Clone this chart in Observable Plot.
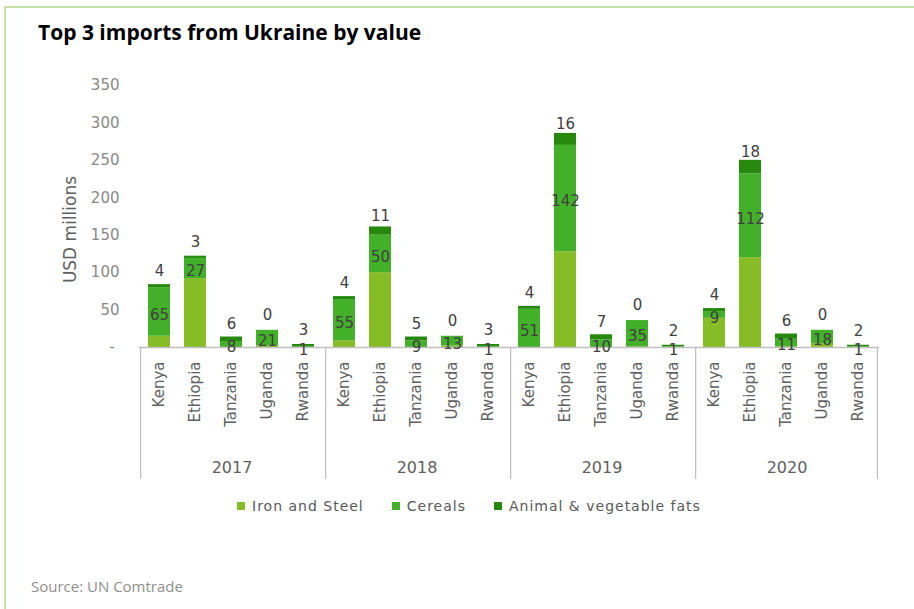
<!DOCTYPE html>
<html>
<head>
<meta charset="utf-8">
<script src="https://cdn.jsdelivr.net/npm/d3@7"></script>
<script src="https://cdn.jsdelivr.net/npm/@observablehq/plot@0.6"></script>
<style>
  html, body { margin: 0; padding: 0; background: #fff; }
  #page { position: relative; width: 914px; height: 609px; overflow: hidden; background: #fff; font-family: "Open Sans", sans-serif; }
  .border-top { position: absolute; left: 4px; top: 6px; right: 0; height: 2px; background: #c6e2a6; }
  .border-left { position: absolute; left: 4px; top: 6px; width: 2px; bottom: 0; background: #c6e2a6; }
  #title { position: absolute; left: 38px; top: 20px; font-size: 21px; line-height: 24px; font-weight: 700; color: #000; white-space: nowrap; }
  #chart { position: absolute; left: 0; top: 60px; }
  #chart svg { overflow: visible; }
  #legend { position: absolute; left: 237px; top: 498px; display: flex; align-items: center; font-family: "DejaVu Sans", sans-serif; font-size: 14px; line-height: 16px; letter-spacing: 1px; color: #595959; white-space: nowrap; }
  #legend .item { display: flex; align-items: center; margin-right: 28px; }
  #legend .sw { width: 8px; height: 8px; margin-right: 7px; }
  #source { position: absolute; left: 31px; top: 576px; font-size: 15px; line-height: 20px; color: #8f8f8f; white-space: nowrap; }
</style>
</head>
<body>
<div id="page">
  <div class="border-top"></div>
  <div class="border-left"></div>
  <div id="title"></div>
  <div id="chart"></div>
  <div id="legend"></div>
  <div id="source"></div>
</div>
<script>
const titleText = "Top 3 imports from Ukraine by value";
const sourceText = "Source: UN Comtrade";
const yLabel = "USD millions";
const years = ["2017", "2018", "2019", "2020"];
const countries = ["Kenya", "Ethiopia", "Tanzania", "Uganda", "Rwanda"];
const products = ["Iron and Steel", "Cereals", "Animal & vegetable fats"];
const productColors = ["#86bc25", "#43b02a", "#26890d"];
const yTicks = [0, 50, 100, 150, 200, 250, 300, 350];
// rows = years, columns = countries (USD millions)
const ironSteel = [
  [15, 92, 0, 2, 0],
  [9, 100, 0, 2, 0],
  [0, 128, 0, 1, 0],
  [39, 120, 1, 5, 0]
];
const cereals = [
  [65, 27, 8, 21, 1],
  [55, 50, 9, 13, 1],
  [51, 142, 10, 35, 1],
  [9, 112, 11, 18, 1]
];
const fats = [
  [4, 3, 6, 0, 3],
  [4, 11, 5, 0, 3],
  [4, 16, 7, 0, 2],
  [4, 18, 6, 0, 2]
];

const series = [ironSteel, cereals, fats];
const data = [];
years.forEach((year, yi) => {
  countries.forEach((country, ci) => {
    products.forEach((product, pi) => {
      data.push({year, country, product, value: series[pi][yi][ci]});
    });
  });
});

document.getElementById("title").textContent = titleText;
document.getElementById("source").textContent = sourceText;

const legend = document.getElementById("legend");
products.forEach((p, i) => {
  const item = document.createElement("div");
  item.className = "item";
  const sw = document.createElement("div");
  sw.className = "sw";
  sw.style.background = productColors[i];
  const label = document.createElement("span");
  label.textContent = p;
  item.appendChild(sw);
  item.appendChild(label);
  legend.appendChild(item);
});

const W = 914, H = 430, mL = 137, mR = 34, mT = 25, mB = 143;
const padInner = 0.38, padOuter = 0.2;
const facetWidth = (W - mL - mR) / years.length;
const step = facetWidth / (countries.length - padInner + 2 * padOuter);
const halfSlot = (padOuter + (1 - padInner) / 2) * step;
const frameH = H - mT - mB;
const sepDrop = 132;

const chart = Plot.plot({
  width: W,
  height: H,
  marginLeft: mL,
  marginRight: mR,
  marginTop: mT,
  marginBottom: mB,
  style: {fontFamily: "DejaVu Sans", fontSize: "15px", background: "transparent", color: "#595959"},
  fx: {domain: years, padding: 0},
  x: {domain: countries, paddingInner: padInner, paddingOuter: padOuter},
  y: {domain: [0, 350]},
  color: {domain: products, range: productColors},
  marks: [
    Plot.axisY({ticks: yTicks, tickFormat: d => d === 0 ? "-\u00a0" : String(d), tickSize: 0, tickPadding: 20, label: null, fill: "#888888", fontSize: 15}),
    Plot.axisX({tickRotate: -90, tickSize: 0, tickPadding: 14, label: null, fill: "#606060", fontSize: 15}),
    Plot.axisFx({anchor: "bottom", tickSize: 0, tickPadding: 114, label: null, fill: "#606060", fontSize: 16}),
    Plot.barY(data, {fx: "year", x: "country", y: "value", fill: "product"}),
    Plot.ruleY([0], {stroke: "#c0c0c0", strokeWidth: 1.5}),
    Plot.ruleX(years, {fx: d => d, x: () => countries[0], dx: -halfSlot, stroke: "#c0c0c0", strokeWidth: 1.3, insetTop: frameH, insetBottom: -sepDrop}),
    Plot.ruleX(years.slice(-1), {fx: d => d, x: () => countries[countries.length - 1], dx: halfSlot, stroke: "#c0c0c0", strokeWidth: 1.3, insetTop: frameH, insetBottom: -sepDrop}),
    Plot.text(data, Plot.stackY({fx: "year", x: "country", y: "value", z: "product",
      text: d => d.product === products[1] ? String(d.value) : null, dy: 3, fill: "#404040", fontSize: 15})),
    Plot.text(data, Plot.stackY({fx: "year", x: "country", y: "value", z: "product",
      text: d => d.product === products[2] ? String(d.value) : null, dy: -15, fill: "#404040", fontSize: 15})),
    Plot.text([yLabel], {fx: () => years[0], frameAnchor: "left", textAnchor: "middle", rotate: -90, dx: -69, dy: 13, fontSize: 17, fill: "#606060"})
  ]
});
document.getElementById("chart").appendChild(chart);
</script>
</body>
</html>
